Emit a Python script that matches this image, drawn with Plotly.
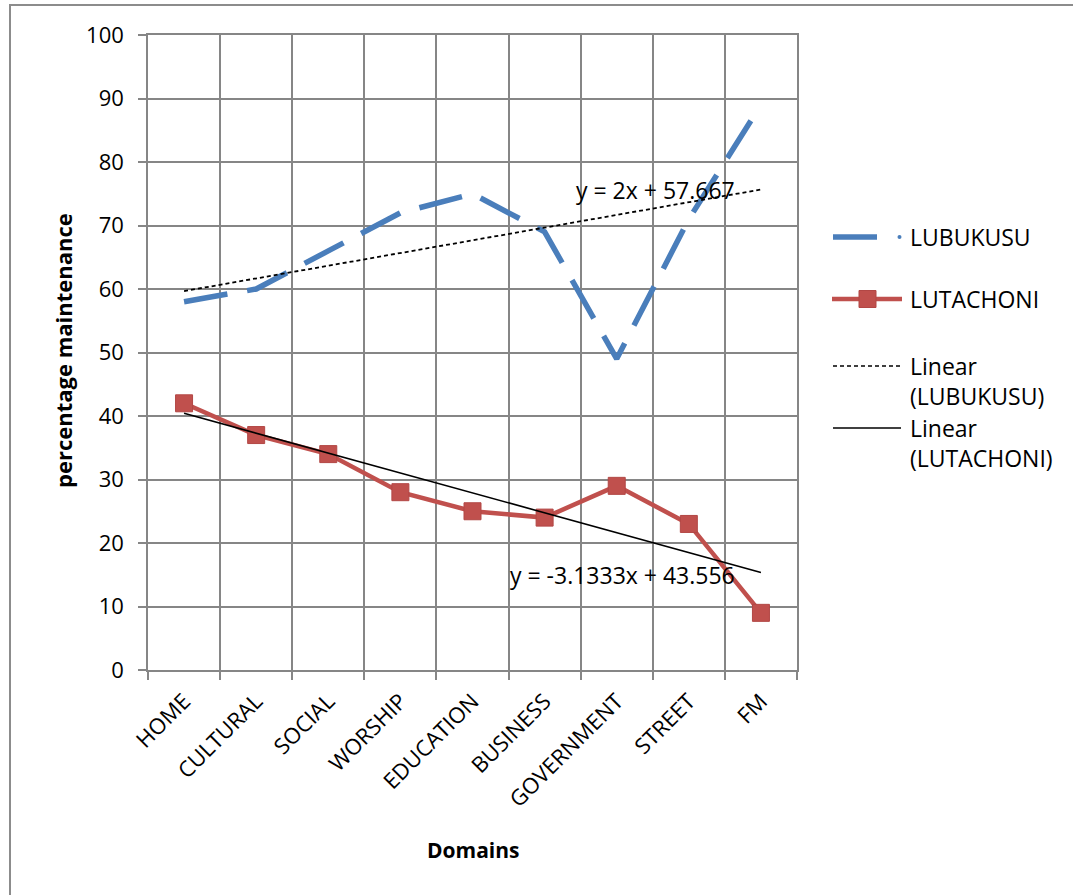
import numpy as np
import plotly.graph_objects as go

# Language-maintenance percentages by domain
domains = ["HOME", "CULTURAL", "SOCIAL", "WORSHIP", "EDUCATION",
           "BUSINESS", "GOVERNMENT", "STREET", "FM"]
lubukusu = [58, 60, 66, 72, 75, 69, 49, 71, 89]
lutachoni = [42, 37, 34, 28, 25, 24, 29, 23, 9]
y_ticks = [0, 10, 20, 30, 40, 50, 60, 70, 80, 90, 100]

BLUE = "#4A7EBB"
RED = "#C0504D"
GRID = "#868686"
FONT = "Open Sans"

# Plot-area geometry in pixels (used to place paper-referenced decorations)
W, H = 1073, 895
L, R, T, B = 148, 797, 35, 670


def px(x):
    return (x - L) / (R - L)


def py(y):
    return (B - y) / (B - T)


# Least-squares trend lines over positions 1..n
xpos = np.arange(1, len(domains) + 1)
m1, c1 = np.polyfit(xpos, lubukusu, 1)
m2, c2 = np.polyfit(xpos, lutachoni, 1)
trend1 = m1 * xpos + c1
trend2 = m2 * xpos + c2


def eq_text(m, c):
    ms = f"{m:.5g}"
    ms = "" if ms == "1" else ms
    return f"y = {ms}x + {c:.5g}"


fig = go.Figure()
fig.add_trace(go.Scatter(
    x=domains, y=lubukusu, mode="lines", name="LUBUKUSU",
    line=dict(color=BLUE, width=5.5, dash="44px,20px"),
))
fig.add_trace(go.Scatter(
    x=domains, y=lutachoni, mode="lines+markers", name="LUTACHONI",
    line=dict(color=RED, width=4.5),
    marker=dict(symbol="square", size=17, color=RED,
                line=dict(color="#B24745", width=1)),
))
fig.add_trace(go.Scatter(
    x=domains, y=trend1, mode="lines", name="Linear (LUBUKUSU)",
    line=dict(color="black", width=1.8, dash="4px,3px"),
))
fig.add_trace(go.Scatter(
    x=domains, y=trend2, mode="lines", name="Linear (LUTACHONI)",
    line=dict(color="black", width=1.6),
))


def note(text, xp, yp, size, angle=0):
    return dict(text=text, x=px(xp), y=py(yp), xref="paper", yref="paper",
                xanchor="center", yanchor="middle", textangle=angle,
                showarrow=False,
                font=dict(size=size, color="black", family=FONT))


annotations = [
    note(eq_text(m1, c1), 655, 190, 23),
    note(eq_text(m2, c2), 622, 575, 23),
    note("<b>percentage maintenance</b>", 63, 351, 22, angle=-90),
    note("<b>Domains</b>", 473, 850, 21),
]

# Legend drawn beside the plot area
leg_font = dict(size=23, color="black", family=FONT)
shapes = [
    # outer chart border
    dict(type="rect", xref="paper", yref="paper",
         x0=px(10), x1=px(1090), y0=py(910), y1=py(5),
         line=dict(color="#8C8C8C", width=2), layer="below"),
    # LUBUKUSU sample
    dict(type="line", xref="paper", yref="paper",
         x0=px(833), x1=px(877), y0=py(237), y1=py(237),
         line=dict(color=BLUE, width=5.5)),
    dict(type="circle", xref="paper", yref="paper",
         x0=px(897.5), x1=px(901.5), y0=py(235), y1=py(239),
         fillcolor=BLUE, line=dict(width=0)),
    # LUTACHONI sample
    dict(type="line", xref="paper", yref="paper",
         x0=px(832), x1=px(902), y0=py(299), y1=py(299),
         line=dict(color=RED, width=4.5)),
    dict(type="rect", xref="paper", yref="paper",
         x0=px(859), x1=px(876), y0=py(307.5), y1=py(290.5),
         fillcolor=RED, line=dict(color="#B24745", width=1)),
    # trend samples
    dict(type="line", xref="paper", yref="paper",
         x0=px(833), x1=px(900), y0=py(366), y1=py(366),
         line=dict(color="black", width=1.5, dash="4px,3px")),
    dict(type="line", xref="paper", yref="paper",
         x0=px(833), x1=px(901), y0=py(428), y1=py(428),
         line=dict(color="black", width=1.5)),
]
legend_labels = [
    ("LUBUKUSU", 237), ("LUTACHONI", 299),
    ("Linear<br>(LUBUKUSU)", 381), ("Linear<br>(LUTACHONI)", 443),
]
for label, ypx in legend_labels:
    annotations.append(dict(text=label, x=px(908), y=py(ypx), xref="paper",
                            yref="paper", xanchor="left", yanchor="middle",
                            align="left", showarrow=False, font=leg_font))

fig.update_layout(
    width=W, height=H,
    margin=dict(l=L, r=W - R, t=T, b=H - B),
    paper_bgcolor="white", plot_bgcolor="white",
    showlegend=False,
    font=dict(family=FONT, color="black"),
    annotations=annotations,
    shapes=shapes,
)
fig.update_xaxes(
    type="category", categoryorder="array", categoryarray=domains,
    tickson="boundaries", ticks="outside", ticklen=8, tickwidth=1.5,
    tickcolor=GRID, showgrid=True, gridcolor=GRID, gridwidth=1.5,
    showline=True, linecolor=GRID, linewidth=1.5, mirror=True,
    tickangle=-45, ticklabelstandoff=8, automargin=False,
    tickfont=dict(size=22, family=FONT, color="black"),
    range=[-0.5, len(domains) - 0.5],
)
fig.update_yaxes(
    range=[0, 100], tickvals=y_ticks, ticks="outside", ticklen=8,
    tickwidth=1.5, tickcolor=GRID, showgrid=True, gridcolor=GRID,
    gridwidth=1.5, showline=True, linecolor=GRID, linewidth=1.5, mirror=True,
    zeroline=False, ticklabelstandoff=10, automargin=False,
    tickfont=dict(size=22, family=FONT, color="black"),
)

fig.write_html("out.html")
